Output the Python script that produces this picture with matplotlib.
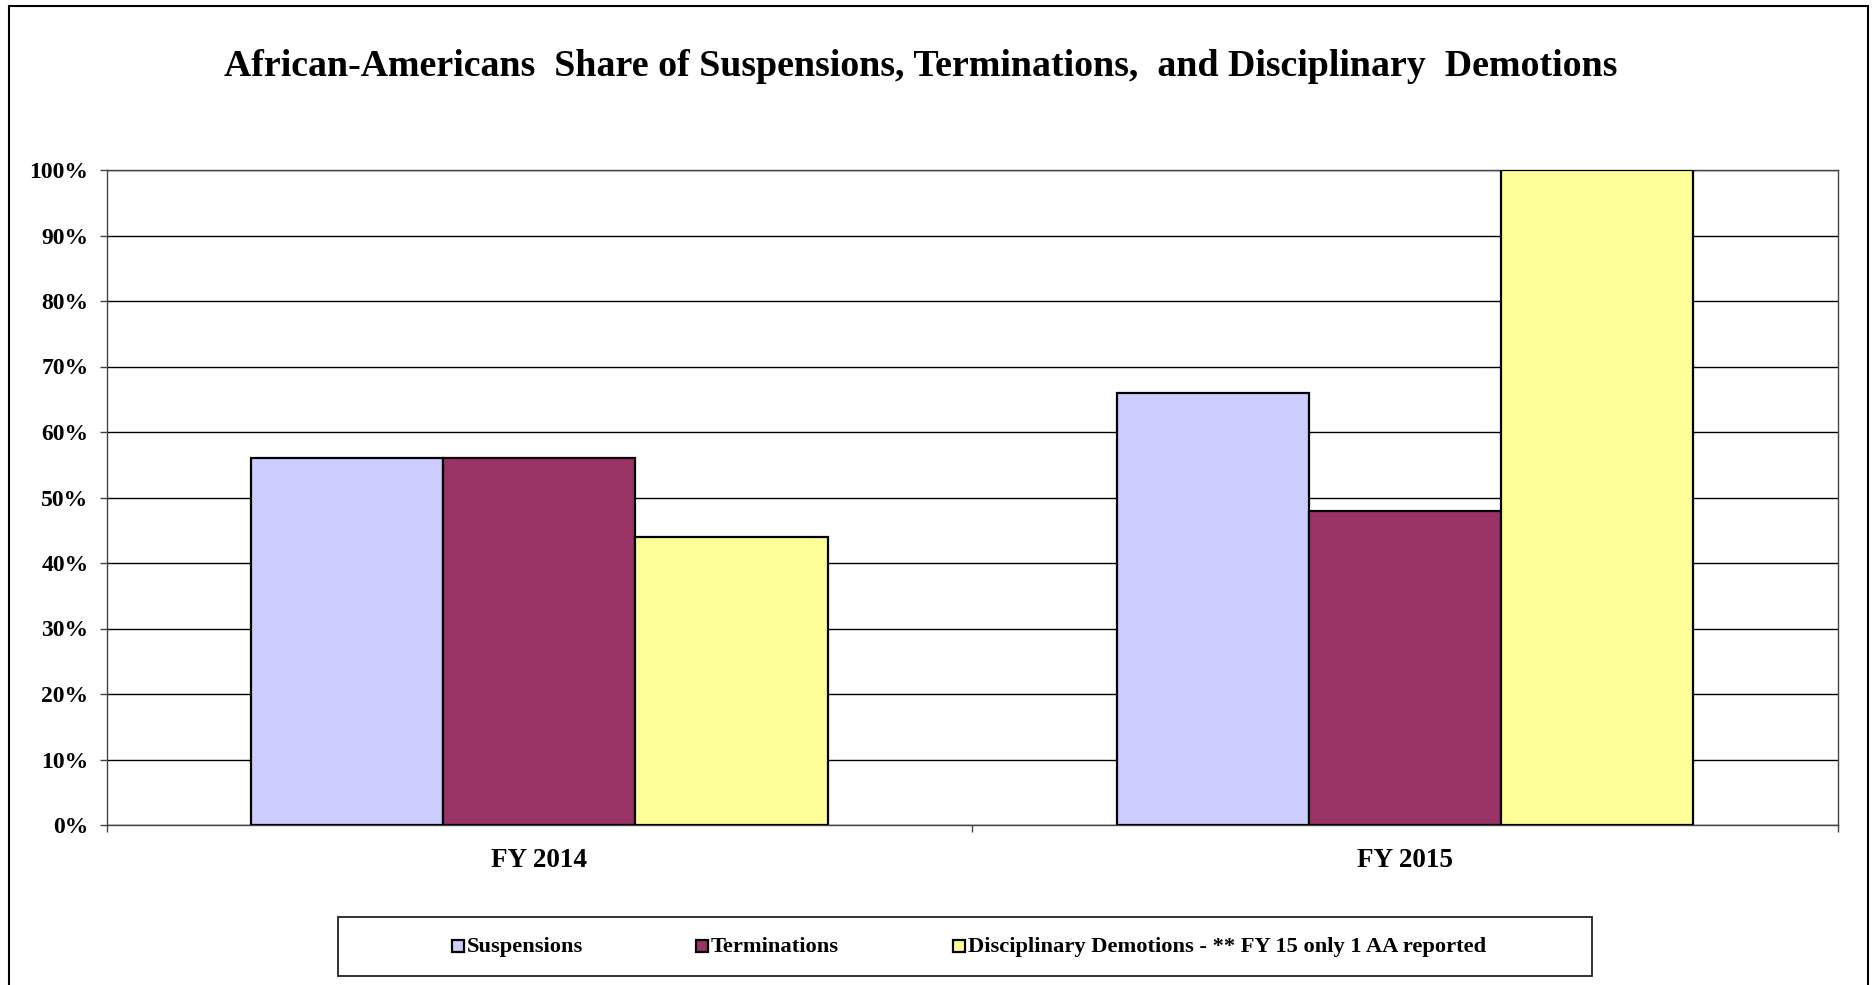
import matplotlib
matplotlib.use("Agg")
import matplotlib.pyplot as plt
from matplotlib.patches import Rectangle
from matplotlib.ticker import PercentFormatter, FixedLocator
import numpy as np

categories = ["FY 2014", "FY 2015"]
series_names = ["Suspensions", "Terminations", "Disciplinary Demotions - ** FY 15 only 1 AA reported"]
suspensions = [56, 66]
terminations = [56, 48]
demotions = [44, 100]
colors = ["#CCCCFF", "#993366", "#FFFF99"]
title = "African-Americans  Share of Suspensions, Terminations,  and Disciplinary  Demotions"

plt.rcParams['font.family'] = ['Liberation Serif', 'DejaVu Serif']
plt.rcParams['font.weight'] = 'bold'

W, H = 1875, 985
fig = plt.figure(figsize=(W / 100, H / 100), dpi=100)
fig.patch.set_facecolor('white')

ax = fig.add_axes([106.5 / W, 1 - 825 / H, (1838 - 106.5) / W, (825 - 170) / H])

x = np.arange(len(categories))
bw = 0.222
for i, (vals, c, name) in enumerate(zip([suspensions, terminations, demotions], colors, series_names)):
    ax.bar(x + (i - 1) * bw, vals, width=bw, color=c, edgecolor='black', linewidth=1.6,
           label=name, zorder=3)

ax.set_xlim(-0.5, 1.5)
ax.set_ylim(0, 100)
ax.yaxis.set_major_locator(FixedLocator(np.arange(0, 101, 10)))
ax.yaxis.set_major_formatter(PercentFormatter(decimals=0))
ax.grid(axis='y', color='black', linewidth=1.0, zorder=0)
ax.set_axisbelow(True)

ax.set_xticks(x)
ax.set_xticklabels(categories, fontsize=19.5, fontweight='bold')
ax.set_xticks([-0.5, 0.5, 1.5], minor=True)
ax.tick_params(axis='x', which='major', length=0, pad=16.5)
ax.tick_params(axis='x', which='minor', length=5, width=1.0, direction='out', color='#444444')
ax.tick_params(axis='y', length=5, width=1.0, direction='out', pad=8, labelsize=17, color='#444444')
for lab in ax.get_yticklabels():
    lab.set_fontweight('bold')

for s in ['top', 'right', 'left', 'bottom']:
    ax.spines[s].set_color('#444444')
    ax.spines[s].set_linewidth(1.0)

fig.text(921 / W, 1 - 66 / H, title, ha='center', va='center', fontsize=27.3, fontweight='bold')

# outer chart border
fig.patches.append(Rectangle((9 / W, -0.05), (1868 - 9) / W, 1 - 6 / H + 0.05,
                             transform=fig.transFigure, fill=False, edgecolor='black', linewidth=1.5))

# legend box
lx0, lx1, ly0, ly1 = 338, 1592, 917, 976
fig.patches.append(Rectangle((lx0 / W, 1 - ly1 / H), (lx1 - lx0) / W, (ly1 - ly0) / H,
                             transform=fig.transFigure, facecolor='white', edgecolor='#222222',
                             linewidth=1.3, zorder=2))

# legend entries
handle_x = [452, 696, 953]
text_y = 1 - 952 / H
hs = 12
for hx, c, name in zip(handle_x, colors, series_names):
    fig.patches.append(Rectangle((hx / W, text_y), hs / W, hs / H, transform=fig.transFigure,
                                 facecolor=c, edgecolor='black', linewidth=1.6, zorder=4))
    fig.text((hx + hs + 3) / W, text_y, name, ha='left', va='baseline', fontsize=16.2,
             fontweight='bold', zorder=5)

fig.savefig("out.png", dpi=100)
